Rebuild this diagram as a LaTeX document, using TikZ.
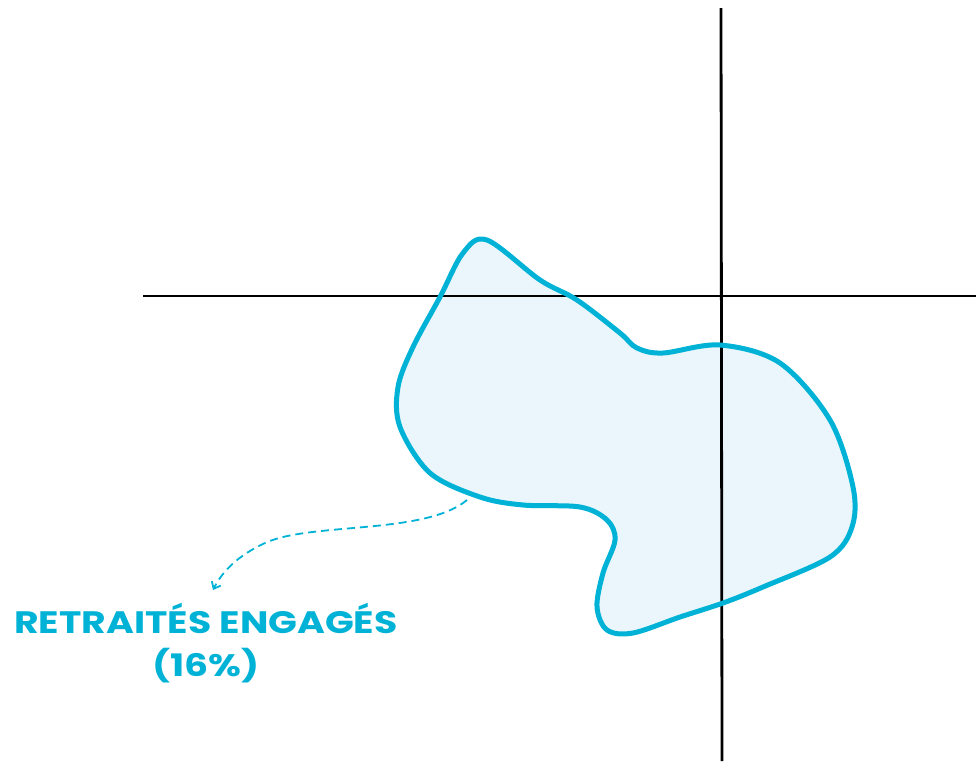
\documentclass[tikz,border=0pt]{standalone}
\usepackage{fontspec}
\setmainfont{Poppins}
\usetikzlibrary{arrows.meta}
\definecolor{cyanmain}{HTML}{00B2D6}
\definecolor{cyanfill}{HTML}{EAF6FB}
\tikzset{
  axis/.style={line width=2.8pt, black},
  blob/.style={line width=5pt, cyanmain},
  pointer/.style={line width=1.8pt, cyanmain, dash pattern=on 8pt off 5pt, -{Straight Barb[length=6pt,width=10pt]}},
  labeltext/.style={text=cyanmain, font=\bfseries\fontsize{31}{43}\selectfont, align=center, inner sep=0pt}
}
\newcommand{\blobpts}{(487,240) (540,280) (577,300) (620,333) (637,348) (663,353) (720,345) (780,363)
 (830,420) (853,487) (852,527) (830,557) (763,587) (723,603) (680,617) (633,633)
 (607,630) (597,607) (603,573) (615,540) (607,520) (580,507) (523,505) (480,497)
 (430,473) (400,427) (398,387) (413,347) (440,297) (463,253)}
\begin{document}
\begin{tikzpicture}[x=1pt,y=-1pt]
\useasboundingbox (0,0) rectangle (976,761);
\coordinate (vtop) at (721,8);
\coordinate (vbot) at (722,761);
\coordinate (hl) at (143,296);
\coordinate (hr) at (976,296);
% blob fill
\fill[cyanfill] plot[smooth cycle, tension=0.55] coordinates {\blobpts};
% axes
\draw[axis] (vtop) -- (vbot);
\draw[axis] (hl) -- (hr);
% blob outline
\draw[blob] plot[smooth cycle, tension=0.55] coordinates {\blobpts};
% label
\node[labeltext] (lbl) at (206,643) {\scalebox{1.22}[1]{RETRAITÉS ENGAGÉS}\\\scalebox{1.22}[1]{(16\%)}};
\coordinate (s) at (467,500);
\coordinate (e) at (213,590);
\draw[pointer] (s) .. controls (425,535) and (310,522) .. (265,543) .. controls (237,556) and (222,572) .. (e);
\end{tikzpicture}
\end{document}
